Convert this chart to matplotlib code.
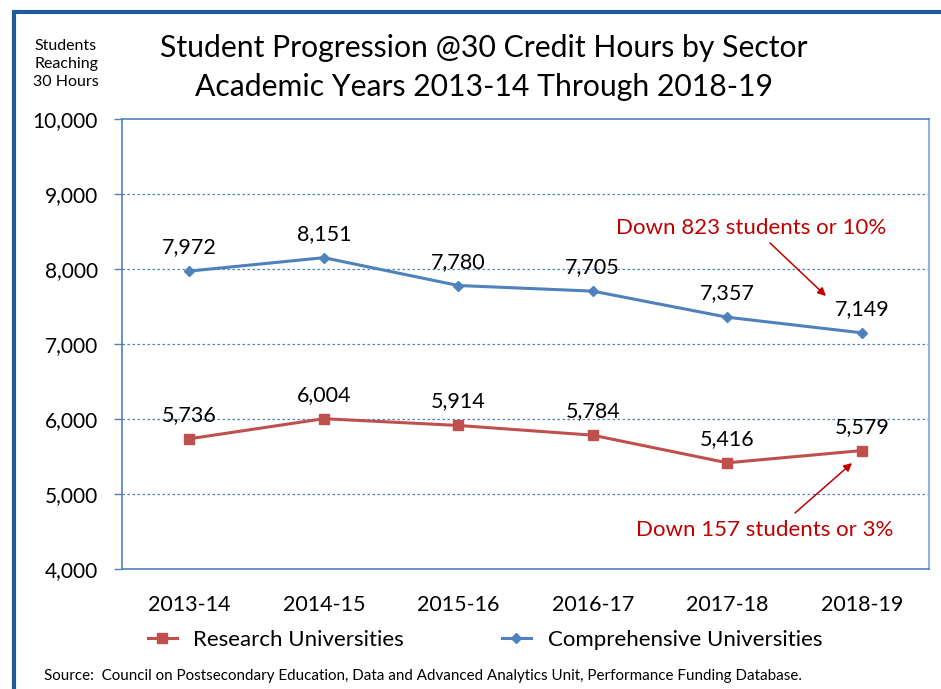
import matplotlib
matplotlib.use("Agg")
import matplotlib.pyplot as plt
from matplotlib.patches import Rectangle
from matplotlib.lines import Line2D

plt.rcParams['font.family'] = ['Lato', 'DejaVu Sans']

years = ["2013-14", "2014-15", "2015-16", "2016-17", "2017-18", "2018-19"]
research = [5736, 6004, 5914, 5784, 5416, 5579]
comprehensive = [7972, 8151, 7780, 7705, 7357, 7149]
yticks = [4000, 5000, 6000, 7000, 8000, 9000, 10000]

BLUE = "#4F81BD"
RED = "#C0504D"
ANN = "#C00000"

fig = plt.figure(figsize=(9.41, 6.89), dpi=100)
ax = fig.add_axes([122/941, 1-569/689, (929-122)/941, (569-119)/689])

x = [i + 0.5 for i in range(len(years))]
ax.plot(x, comprehensive, color=BLUE, lw=2.2, marker='D', ms=5.5, zorder=3)
ax.plot(x, research, color=RED, lw=2.2, marker='s', ms=6.5, zorder=3)

for xi, v in zip(x, comprehensive):
    ax.annotate(f"{v:,}", (xi, v), xytext=(0, 10), textcoords='offset points',
                ha='center', va='bottom', fontsize=15.5)
for xi, v in zip(x, research):
    ax.annotate(f"{v:,}", (xi, v), xytext=(0, 10), textcoords='offset points',
                ha='center', va='bottom', fontsize=15.5)

ax.set_xlim(0, 6)
ax.set_ylim(4000, 10000)
ax.set_yticks(yticks)
ax.set_yticklabels([f"{v:,}" for v in yticks], fontsize=15)
ax.set_xticks(x)
ax.set_xticklabels(years, fontsize=15.5)
ax.tick_params(axis='x', length=0, pad=19)
ax.tick_params(axis='y', length=6, color=BLUE, width=1, pad=11.5, direction='out')
for s in ax.spines.values():
    s.set_color(BLUE)
    s.set_linewidth(1.2)
ax.spines['right'].set_color("#95B3D7")
ax.spines['right'].set_linewidth(1.5)
for v in yticks[1:-1]:
    ax.axhline(v, color=BLUE, lw=0.9, ls=(0, (2, 2)), zorder=1)

# annotations
ax.text(4.68, 8547, "Down 823 students or 10%", color=ANN, fontsize=16,
        ha='center', va='center')
ax.annotate("", xy=(5.234, 7640), xytext=(4.818, 8347),
            arrowprops=dict(arrowstyle='-|>', color=ANN, lw=1.1,
                            shrinkA=0, shrinkB=0, mutation_scale=12))
ax.text(4.78, 4520, "Down 157 students or 3%", color=ANN, fontsize=16,
        ha='center', va='center')
ax.annotate("", xy=(5.428, 5413), xytext=(5.004, 4747),
            arrowprops=dict(arrowstyle='-|>', color=ANN, lw=1.1,
                            shrinkA=0, shrinkB=0, mutation_scale=12))

fig.text(484/941, 1-48/689, "Student Progression @30 Credit Hours by Sector",
         ha='center', va='center', fontsize=21.7)
fig.text(484/941, 1-87/689, "Academic Years 2013-14 Through 2018-19",
         ha='center', va='center', fontsize=21.7)
fig.text(66/941, 1-64/689, "Students\nReaching\n30 Hours", ha='center', va='center',
         fontsize=11.5, linespacing=1.4)

handles = [Line2D([], [], color=RED, lw=2.2, marker='s', ms=6.5),
           Line2D([], [], color=BLUE, lw=2.2, marker='D', ms=5.5)]
fig.legend(handles, ["Research Universities", "Comprehensive Universities"],
           loc='center', bbox_to_anchor=(485/941, 1-640/689), ncol=2, frameon=False,
           fontsize=16, handlelength=1.3, columnspacing=4.4, handletextpad=0.75)

fig.text(44/941, 1-676/689,
         "Source:  Council on Postsecondary Education, Data and Advanced Analytics Unit, Performance Funding Database.",
         ha='left', va='center', fontsize=10.9)

fig.patches.append(Rectangle((14/941, -0.2), 1.2, 1 - 12/689 + 0.2,
                             transform=fig.transFigure, fill=False,
                             edgecolor="#1F5C99", lw=3, clip_on=False))

fig.savefig("out.png", dpi=100)
